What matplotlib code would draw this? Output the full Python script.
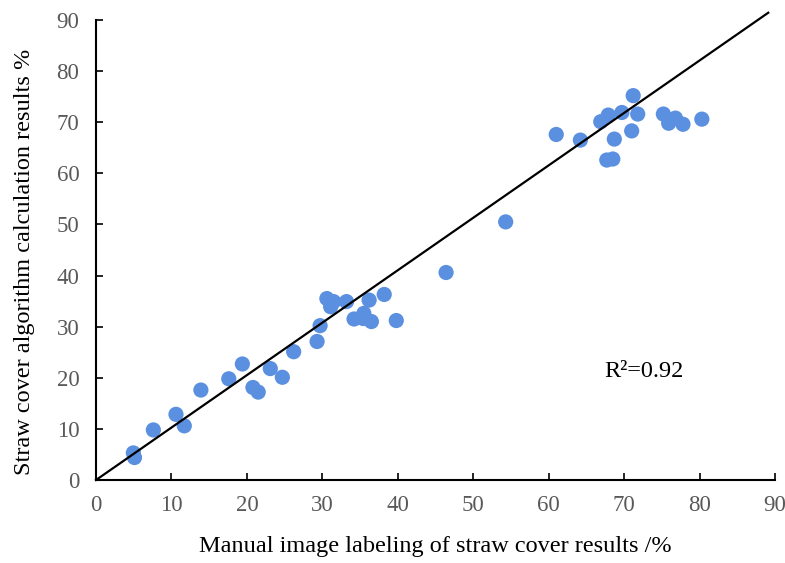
import matplotlib
matplotlib.use("Agg")
import matplotlib.pyplot as plt
import numpy as np

manual = [4.95, 5.1, 7.6, 10.6, 11.7, 13.9, 17.6, 19.4, 20.8, 21.5, 23.1, 24.7,
          26.2, 29.3, 29.7, 30.6, 31.1, 31.5, 33.2, 34.2, 35.4, 35.5, 36.5, 36.2,
          38.2, 39.8, 46.4, 54.3, 61.0, 64.2, 66.9, 67.9, 67.7, 68.5, 68.7, 69.7,
          71.0, 71.2, 71.8, 75.2, 75.9, 76.8, 77.8, 80.3]
algo = [5.3, 4.4, 9.8, 12.85, 10.6, 17.6, 19.8, 22.7, 18.1, 17.2, 21.8, 20.1,
        25.1, 27.1, 30.2, 35.5, 33.9, 34.9, 34.9, 31.5, 31.6, 32.6, 31.0, 35.2,
        36.3, 31.2, 40.6, 50.5, 67.6, 66.5, 70.1, 71.4, 62.6, 62.8, 66.7, 71.9,
        68.3, 75.2, 71.6, 71.6, 69.8, 70.8, 69.6, 70.6]
fit_x = [0, 89.1]
fit_slope = 1.026
ticks = [0, 10, 20, 30, 40, 50, 60, 70, 80, 90]

plt.rcParams['font.family'] = ['Liberation Serif', 'DejaVu Serif']

fig = plt.figure(figsize=(7.85, 5.63), dpi=100)
ax = fig.add_axes([0.1223, 0.1474, 0.8650, 0.8171])

ax.scatter(manual, algo, s=120, color='#5B90E0', edgecolors='none', zorder=2)
fx = np.array(fit_x)
ax.plot(fx, fit_slope * fx, color='black', lw=1.6, clip_on=False, zorder=3)

ax.set_xlim(0, 90)
ax.set_ylim(0, 90)
ax.set_xticks(ticks)
ax.set_yticks(ticks)
ax.tick_params(direction='in', length=5, width=1.2, colors='black',
               labelcolor='#595959', labelsize=16.5)
ax.tick_params(axis='y', pad=12)
ax.tick_params(axis='x', pad=11)
for s in ['top', 'right']:
    ax.spines[s].set_visible(False)
for s in ['left', 'bottom']:
    ax.spines[s].set_linewidth(1.5)

fig.text(435 / 785, 1 - 552 / 563, 'Manual image labeling of straw cover results /%',
         fontsize=17.5, ha='center', va='baseline')
fig.text(25 / 785, 1 - 262 / 563, 'Straw cover algorithm calculation results %',
         fontsize=17.5, ha='center', va='center', rotation=90)
ax.text(67.4, 21.2, 'R²=0.92', fontsize=17.5, va='center', ha='left')

fig.savefig('out.png', dpi=100)
